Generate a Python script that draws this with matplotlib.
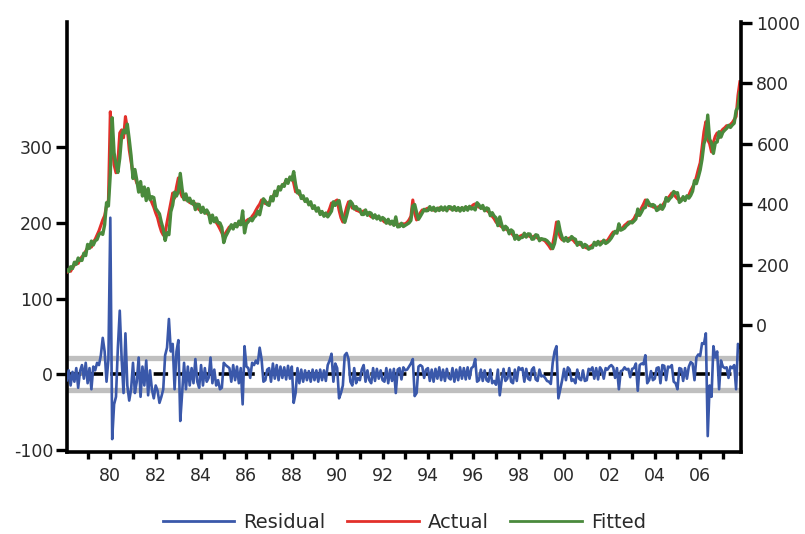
import numpy as np
import matplotlib
matplotlib.use("Agg")
import matplotlib.pyplot as plt
from matplotlib.lines import Line2D

plt.rcParams['font.family'] = ['DejaVu Sans']
plt.rcParams['axes.unicode_minus'] = False

# monthly data, Feb 1978 .. Oct 2007
start_year = 1978
start_month = 2

actual = [
    175, 182, 178, 190, 198, 209, 204, 218, 226, 232, 245,            # 1978
    255, 262, 258, 275, 284, 298, 312, 330, 348, 362, 395, 414,       # 1979
    706, 600, 530, 504, 540, 636, 646, 620, 690, 650, 580, 540,       # 1980
    500, 490, 470, 462, 445, 437, 442, 430, 424, 420, 405, 390,       # 1981
    371, 355, 330, 310, 298, 305, 340, 372, 405, 437, 420, 457,       # 1982
    487, 440, 424, 430, 414, 420, 405, 410, 398, 402, 390, 381,       # 1983
    385, 375, 378, 371, 365, 360, 352, 348, 340, 330, 318, 305,       # 1984
    288, 305, 315, 325, 322, 330, 328, 335, 332, 340, 338, 342,       # 1985
    345, 350, 348, 360, 368, 380, 391, 400, 414, 408, 402, 405,       # 1986
    404, 415, 425, 437, 440, 450, 457, 460, 468, 475, 480, 484,       # 1987
    490, 470, 441, 445, 432, 425, 418, 414, 410, 402, 398, 392,       # 1988
    387, 382, 378, 372, 368, 365, 362, 370, 385, 404, 398, 410,       # 1989
    414, 380, 355, 341, 365, 390, 408, 400, 387, 392, 380, 378,       # 1990
    375, 372, 378, 371, 368, 365, 358, 362, 356, 358, 355, 352,       # 1991
    348, 341, 345, 338, 340, 335, 337, 333, 331, 334, 330, 335,       # 1992
    335, 340, 348, 360, 414, 370, 348, 360, 372, 381, 378, 384,       # 1993
    387, 383, 386, 380, 384, 381, 388, 383, 386, 382, 385, 387,       # 1994
    384, 388, 382, 385, 381, 386, 383, 387, 385, 389, 387, 392,       # 1995
    398, 401, 395, 390, 392, 387, 383, 380, 375, 368, 360, 352,       # 1996
    341, 335, 330, 325, 322, 318, 315, 310, 305, 298, 290, 288,       # 1997
    292, 295, 298, 294, 298, 296, 293, 290, 294, 292, 288, 285,       # 1998
    283, 282, 278, 270, 262, 252, 268, 300, 341, 310, 290, 282,       # 1999
    285, 282, 286, 288, 284, 280, 272, 270, 268, 265, 262, 258,       # 2000
    255, 258, 260, 265, 268, 272, 270, 274, 276, 275, 278, 280,       # 2001
    290, 300, 308, 305, 312, 315, 318, 322, 330, 335, 341, 338,       # 2002
    345, 352, 365, 362, 375, 388, 400, 414, 402, 395, 398, 391,       # 2003
    389, 387, 392, 385, 395, 405, 414, 420, 428, 437, 432, 425,       # 2004
    418, 414, 418, 416, 420, 422, 430, 445, 457, 470, 490, 515,       # 2005
    537, 590, 640, 673, 613, 600, 573, 605, 625, 636, 620, 640,       # 2006
    648, 653, 660, 656, 664, 670, 680, 690, 760, 805,                 # 2007
]

residual = [
    -8, 5, -15, 3, -10, 8, -18, 4, 12, -6, 15,                        # 1978
    -12, 8, -20, 10, 5, 15, 12, 25, 48, 30, -10, 20,                  # 1979
    207, -86, -40, -30, 35, 84, 20, -25, 54, -15, -35, -20,           # 1980
    15, -25, -10, 22, -30, 10, -15, 18, -28, 5, -20, -32,             # 1981
    -15, -22, -38, -30, -20, 25, 35, 73, 30, 40, -20, 30,             # 1982
    45, -62, -25, 15, -20, 10, -15, 8, -12, 20, -10, -18,             # 1983
    12, -15, 8, -10, -5, 22, -12, 6, -15, -8, -20, -18,               # 1984
    15, 12, 10, 8, -10, 12, -8, 10, -12, 8, -40, 37,                  # 1985
    10, 8, -5, 15, 12, 18, 14, 35, 20, -10, -8, 6,                    # 1986
    8, -10, 14, -6, 12, -8, 10, -5, 9, -7, 11, -6,                    # 1987
    10, -38, -25, 8, -12, 6, -10, 5, -8, 4, -10, 6,                   # 1988
    -8, 5, -10, 6, -8, 5, -9, 12, 18, 27, -10, 14,                    # 1989
    8, -32, -25, -15, 25, 28, 20, -10, -15, 8, -12, -5,               # 1990
    -8, 6, 12, -10, 5, -8, -12, 8, -9, 7, -6, 5,                      # 1991
    -8, -10, 8, -12, 6, -9, 7, -25, 6, 8, -7, 9,                      # 1992
    5, 6, 10, 14, 20, -29, -25, 10, 12, 10, -5, 6,                    # 1993
    8, -9, 6, -10, 7, -6, 9, -8, 6, -9, 7, -5,                        # 1994
    -7, 8, -10, 6, -8, 9, -6, 8, -7, 9, -6, 8,                        # 1995
    10, 20, -10, -8, 6, -9, 5, -8, -10, 6, -12, -9,                   # 1996
    -14, 6, -28, -8, 7, -9, -6, 8, -10, -12, 6, -9,                   # 1997
    9, 6, 8, -10, 7, -6, -8, 6, 9, -7, -9, 6,                         # 1998
    -3, -2, -5, -9, -10, -13, 15, 30, 37, -32, -20, -8,               # 1999
    7, -8, 9, 6, -9, -7, -12, 6, -6, -8, 5, -9,                       # 2000
    -8, 7, 5, 9, -6, 8, -7, 9, 5, -6, 8, 6,                           # 2001
    10, 12, 9, -5, 8, -20, 4, 5, 9, 6, 7, -4,                         # 2002
    7, 8, 14, -22, 12, 14, 13, 25, -12, -8, 4, -8,                    # 2003
    -6, 8, 9, -12, 12, 11, -8, 10, 9, 12, -10, -12,                   # 2004
    -20, 8, 7, -9, 8, -6, 10, 16, 14, -8, 22, 26,                     # 2005
    24, 41, 40, 54, -82, -15, -30, 37, 22, 30, -20, 18,               # 2006
    10, 8, 9, -5, 10, 8, 12, -20, 40, 35,                             # 2007
]

actual = np.array(actual, dtype=float)
residual = np.array(residual, dtype=float)
assert len(actual) == len(residual)
fitted = actual - residual

t = start_year + (start_month - 1 + np.arange(len(actual))) / 12.0

year_labels = [f"{y % 100:02d}" for y in range(1980, 2007, 2)]

fig = plt.figure(figsize=(8.05, 5.34), dpi=100)
ax = fig.add_axes([0.0832, 0.1536, 0.8373, 0.8052])
ax2 = ax.twinx()

# residual (left axis)
ax.axhline(21, color='#bfbfbf', lw=3.8, zorder=1)
ax.axhline(-21, color='#bfbfbf', lw=3.8, zorder=1)
ax.axhline(0, color='black', lw=2.6, ls=(0, (4, 2)), zorder=2)
ax.plot(t, residual, color='#3a58aa', lw=1.9, zorder=3)

# actual / fitted (right axis)
ax2.plot(t, actual, color='#e2302a', lw=2.2)
ax2.plot(t, fitted, color='#4a8a3c', lw=2.4)

ax.set_xlim(1978.09, 2007.8)
ax.set_ylim(-103, 466)
ax2.set_ylim(-420, 1003)

ax.set_yticks([-100, 0, 100, 200, 300])
ax2.set_yticks([0, 200, 400, 600, 800, 1000])
ax.set_xticks(list(range(1980, 2007, 2)))
ax.set_xticklabels(year_labels)
ax.set_xticks(list(range(1979, 2008, 2)), minor=True)

for a in (ax, ax2):
    a.spines['top'].set_visible(False)
    for s in a.spines.values():
        s.set_linewidth(2.6)
ax.spines['right'].set_visible(False)
ax2.spines['left'].set_visible(False)
ax2.spines['bottom'].set_visible(False)

tick_kw = dict(direction='out', width=2.4, colors='black', labelcolor='#2a2a2a', labelsize=12.5)
ax.tick_params(axis='y', which='major', length=8, pad=2, **tick_kw)
ax.tick_params(axis='x', which='both', length=5, pad=6, **tick_kw)
ax2.tick_params(axis='y', which='major', length=8, pad=3, **tick_kw)

handles = [Line2D([], [], color='#3a58aa', lw=2),
           Line2D([], [], color='#e2302a', lw=2),
           Line2D([], [], color='#4a8a3c', lw=2)]
fig.legend(handles, ['Residual', 'Actual', 'Fitted'], loc='center',
           bbox_to_anchor=(0.502, 0.021), ncol=3, frameon=False,
           handlelength=3.7, columnspacing=1.1, handletextpad=0.45,
           fontsize=14, labelcolor='#2a2a2a')

fig.savefig('out.png', dpi=100)
